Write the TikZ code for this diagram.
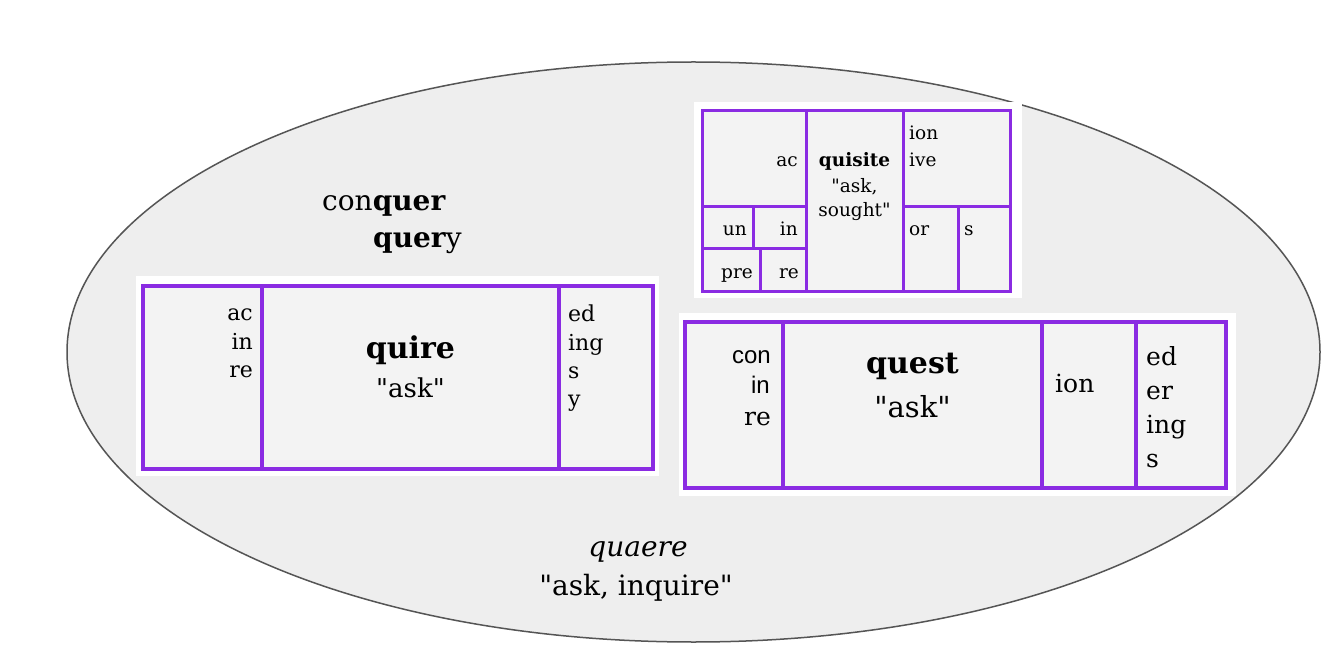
\documentclass[tikz,border=0pt]{standalone}
\usepackage{fontspec}
\setmainfont{DejaVu Serif}
\newfontfamily\sansf{Liberation Sans}
\definecolor{vio}{HTML}{8A2BE2}
\definecolor{ellfill}{HTML}{EEEEEE}
\definecolor{boxfill}{HTML}{F3F3F3}
\definecolor{ellline}{HTML}{555555}
\newcommand{\qq}{\textquotedbl}
\begin{document}
\begin{tikzpicture}[x=1pt,y=-1pt,
  panel/.style={fill=white,draw=none},
  bigbox/.style={draw=vio,line width=4.5pt,fill=boxfill},
  bigline/.style={draw=vio,line width=4.5pt},
  smallbox/.style={draw=vio,line width=3pt,fill=boxfill},
  smallline/.style={draw=vio,line width=3pt},
  t/.style={inner sep=0pt},
  ts/.style={t,font=\fontsize{18.5}{22}\selectfont},
  tm/.style={t,font=\fontsize{22}{26}\selectfont},
  tl/.style={t,font=\fontsize{25}{29}\selectfont},
  tb/.style={t,font=\fontsize{30}{34}\selectfont\bfseries},
]
\useasboundingbox (0,0) rectangle (1336,668);
\fill[white] (0,0) rectangle (1336,668);
% ellipse
\draw[fill=ellfill,draw=ellline,line width=1.5pt] (693.5,352) ellipse [x radius=626.5pt, y radius=290pt];

% ---------- quisite panel ----------
\fill[panel] (694,102) rectangle (1022,298);
\draw[smallbox] (702,111) rectangle (1010,292);
\draw[smallline] (806,111) -- (806,292);
\draw[smallline] (903,111) -- (903,292);
\draw[smallline] (702,207) -- (806,207);
\draw[smallline] (702,249) -- (806,249);
\draw[smallline] (753,207) -- (753,249);
\draw[smallline] (760,249) -- (760,292);
\draw[smallline] (903,207) -- (1010,207);
\draw[smallline] (958,207) -- (958,292);
\node[ts,anchor=base east] (qsac) at (798,167) {ac};
\node[ts,anchor=base,font=\fontsize{18.5}{22}\selectfont\bfseries] (qsroot) at (854.5,167) {quisite};
\node[ts,anchor=base] (qsask) at (854.5,193) {\qq ask,};
\node[ts,anchor=base] (qssought) at (854.5,217) {sought\qq};
\node[ts,anchor=base west] (qsion) at (909,140) {ion};
\node[ts,anchor=base west] (qsive) at (909,167) {ive};
\node[ts,anchor=base east] (qsun) at (747,236) {un};
\node[ts,anchor=base east] (qsin) at (798,236) {in};
\node[ts,anchor=base east] (qspre) at (753,279) {pre};
\node[ts,anchor=base east] (qsre) at (799,279) {re};
\node[ts,anchor=base west] (qsor) at (909,236) {or};
\node[ts,anchor=base west] (qss) at (964,236) {s};

% ---------- quire panel ----------
\fill[panel] (136,276) rectangle (659,476);
\draw[bigbox] (143,286) rectangle (653,469);
\draw[bigline] (262,286) -- (262,469);
\draw[bigline] (559,286) -- (559,469);
\node[tm,anchor=base east] (qrac) at (253,321) {ac};
\node[tm,anchor=base east] (qrin) at (253,349) {in};
\node[tm,anchor=base east] (qrre) at (253,377) {re};
\node[tb,anchor=base] (qrroot) at (410.5,358) {quire};
\node[tm,anchor=base,font=\fontsize{26}{30}\selectfont] (qrask) at (410.5,397) {\qq ask\qq};
\node[tm,anchor=base west] (qred) at (568,322) {ed};
\node[tm,anchor=base west] (qring) at (568,350) {ing};
\node[tm,anchor=base west] (qrs) at (568,378) {s};
\node[tm,anchor=base west] (qry) at (568,406) {y};

% ---------- quest panel ----------
\fill[panel] (679,313) rectangle (1236,496);
\draw[bigbox] (685,322) rectangle (1226,488);
\draw[bigline] (783,322) -- (783,488);
\draw[bigline] (1042,322) -- (1042,488);
\draw[bigline] (1136,322) -- (1136,488);
\node[tl,anchor=base east,font=\fontsize{24}{28}\sansf] (qtcon) at (771,363) {con};
\node[tl,anchor=base east,font=\fontsize{24}{28}\sansf] (qtin) at (770,393) {in};
\node[tl,anchor=base east] (qtre) at (771,425) {re};
\node[tb,anchor=base] (qtroot) at (912.5,373) {quest};
\node[tl,anchor=base,font=\fontsize{29}{33}\selectfont] (qtask) at (912.5,417) {\qq ask\qq};
\node[tl,anchor=base west] (qtion) at (1055,392) {ion};
\node[tl,anchor=base west] (qted) at (1146,365) {ed};
\node[tl,anchor=base west] (qter) at (1146,399) {er};
\node[tl,anchor=base west] (qting) at (1146,433) {ing};
\node[tl,anchor=base west] (qts) at (1146,467) {s};

% ---------- loose words ----------
\node[t,anchor=base west,font=\fontsize{28}{32}\selectfont] (conquer) at (322,211) {con\textbf{quer}};
\node[t,anchor=base west,font=\fontsize{28}{32}\selectfont] (query) at (373,248) {\textbf{quer}y};
\node[t,anchor=base,font=\fontsize{28}{32}\selectfont\itshape] (quaere) at (638,556) {quaere};
\node[t,anchor=base,font=\fontsize{28}{32}\selectfont] (gloss) at (636,595) {\qq ask, inquire\qq};
\end{tikzpicture}
\end{document}
